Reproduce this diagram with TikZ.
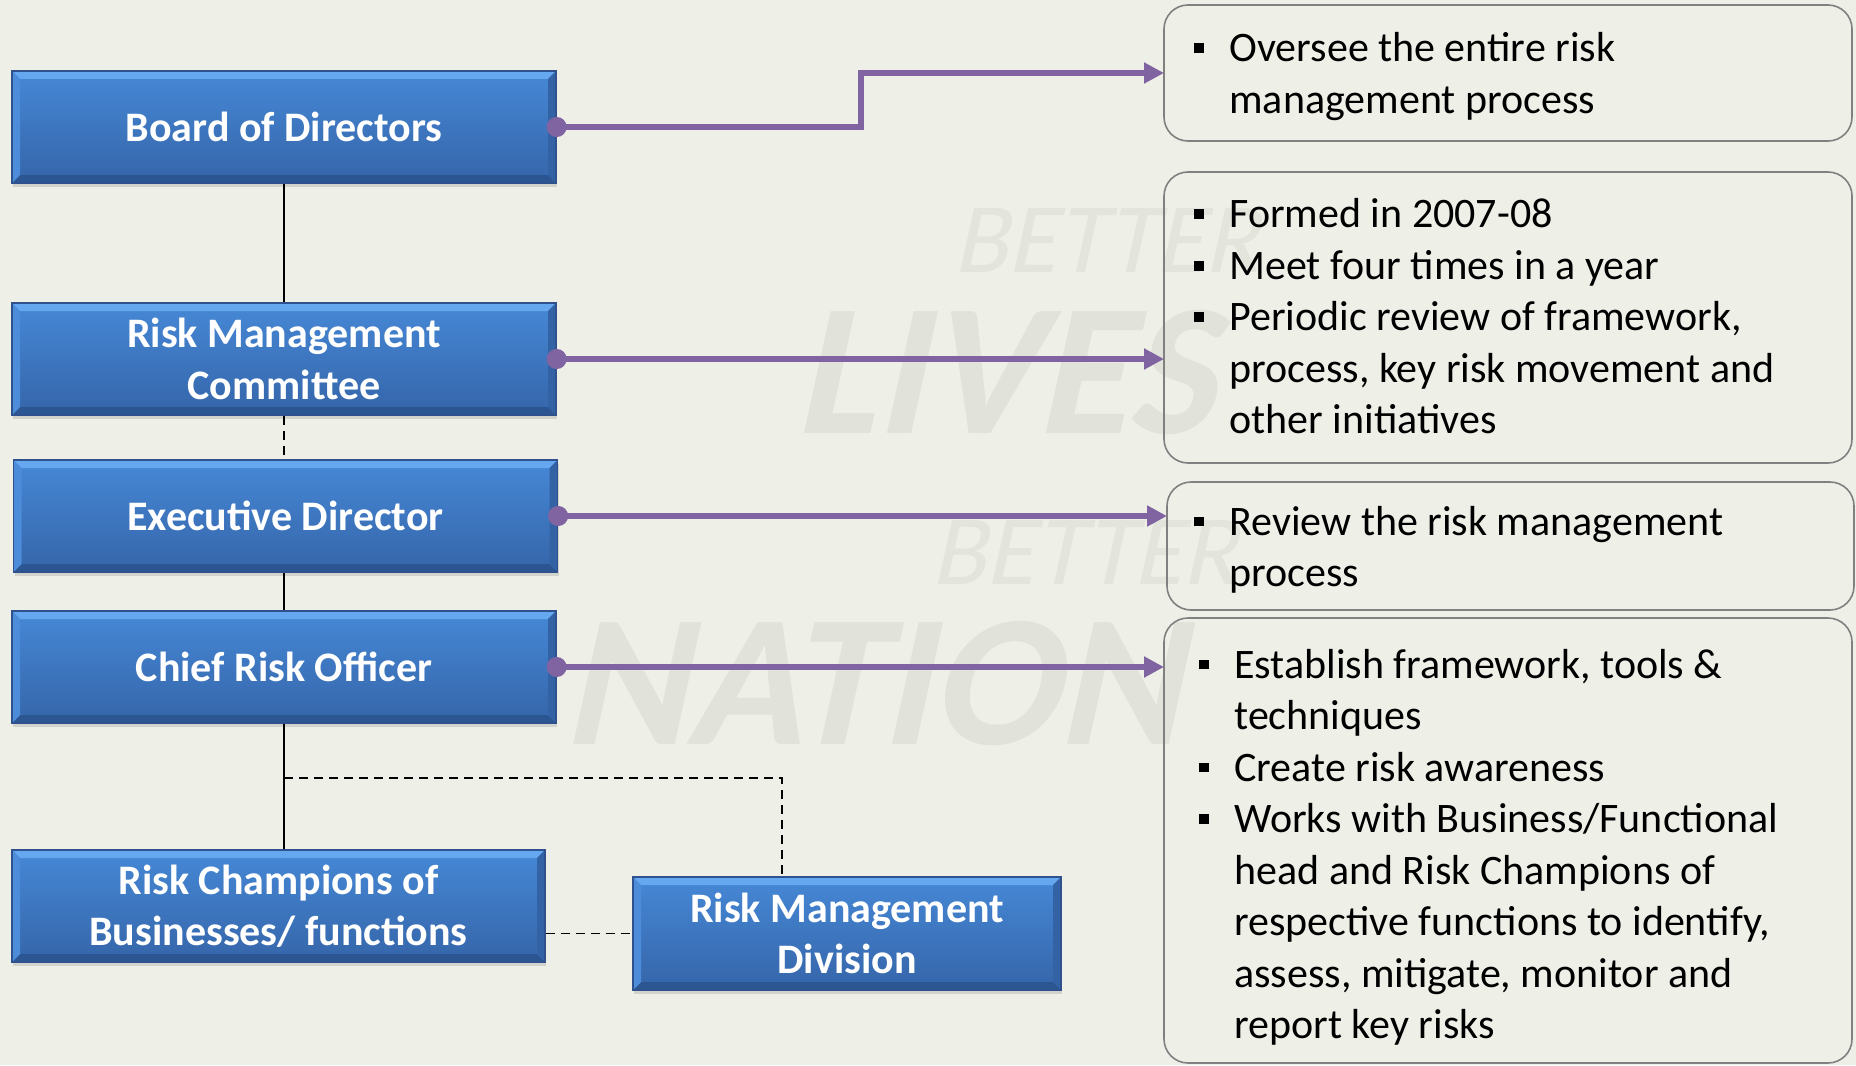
\documentclass[tikz,border=0pt]{standalone}
\usepackage{fontspec}
\setmainfont{Carlito}
\usetikzlibrary{arrows.meta,shadows,calc}
\definecolor{bg}{HTML}{EEF0E8}
\definecolor{bluetop}{HTML}{4688D6}
\definecolor{bluebot}{HTML}{3565A9}
\definecolor{bluehi}{HTML}{66A8F0}
\definecolor{bluelo}{HTML}{2C5692}
\definecolor{blueleft}{HTML}{4C8CD9}
\definecolor{blueright}{HTML}{3362A5}
\definecolor{boxedge}{HTML}{2F528F}
\definecolor{connc}{HTML}{8064A2}
\definecolor{wm}{HTML}{E1E3DB}
\definecolor{wmlight}{HTML}{E3E5DD}
\definecolor{descedge}{HTML}{808080}
\newcommand{\sqb}{\makebox[17.5pt][l]{\raisebox{4.4pt}{\rule{4.8pt}{4.8pt}}}}
\begin{document}
\begin{tikzpicture}[x=0.5pt,y=-0.5pt,
  bluebox/.style={draw=boxedge, line width=0.6pt, top color=bluetop, bottom color=bluebot,
    text=white, font=\bfseries\fontsize{21}{25.75}\selectfont, align=center,
    minimum width=272pt, minimum height=56pt, inner sep=0pt,
    drop shadow={opacity=0.25, shadow xshift=0.6pt, shadow yshift=-1.8pt},
    path picture={
      \coordinate (pnw) at (path picture bounding box.north west);
      \coordinate (pne) at (path picture bounding box.north east);
      \coordinate (psw) at (path picture bounding box.south west);
      \coordinate (pse) at (path picture bounding box.south east);
      \fill[bluehi] (pnw) -- (pne) -- ([xshift=-4pt,yshift=-4pt]pne) -- ([xshift=4pt,yshift=-4pt]pnw) -- cycle;
      \fill[bluelo] (psw) -- (pse) -- ([xshift=-4pt,yshift=4pt]pse) -- ([xshift=4pt,yshift=4pt]psw) -- cycle;
      \fill[blueleft] (pnw) -- ([xshift=4pt,yshift=-4pt]pnw) -- ([xshift=4pt,yshift=4pt]psw) -- (psw) -- cycle;
      \fill[blueright] (pne) -- ([xshift=-4pt,yshift=-4pt]pne) -- ([xshift=-4pt,yshift=4pt]pse) -- (pse) -- cycle;
    }},
  descbox/.style={draw=descedge, line width=0.8pt, rounded corners=12pt},
  desc/.style={anchor=west, inner sep=0pt, font=\fontsize{21}{25.75}\selectfont, align=left},
  conn/.style={draw=connc, line width=2.9pt, {Circle[length=10pt]}-{Triangle[length=10pt,width=10pt]}, shorten <=-5pt},
  vline/.style={draw=black, line width=0.9pt},
  dline/.style={vline, dash pattern=on 4.5pt off 3pt},
  wmtext/.style={text=wm, inner sep=0pt, transform shape}
]
\useasboundingbox (0,0) rectangle (1856,1065);
\clip (0,0) rectangle (1856,1065);
\fill[bg] (0,0) rectangle (1856,1065);

% watermark
\begin{scope}[shift={(1113,240)}, xslant=0.22]
  \node[wmtext, text=wmlight, font=\fontsize{50}{54}\selectfont] (wm1) at (0,0) {BETTER};
\end{scope}
\begin{scope}[shift={(1018,372)}, xslant=0.22]
  \node[wmtext, font=\bfseries\fontsize{94}{100}\selectfont] (wm2) at (0,0) {LIVES};
\end{scope}
\begin{scope}[shift={(1091,552)}, xslant=0.22]
  \node[wmtext, text=wmlight, font=\fontsize{50}{54}\selectfont] (wm3) at (0,0) {BETTER};
\end{scope}
\begin{scope}[shift={(885,683)}, xslant=0.22]
  \node[wmtext, font=\bfseries\fontsize{94}{100}\selectfont] (wm4) at (0,0) {NATION};
\end{scope}

% right description boxes
\draw[descbox] (1164,5) rectangle (1852,141);
\coordinate (oa) at (1164,73);
\draw[descbox] (1164,172) rectangle (1852,463);
\coordinate (ob) at (1164,317);
\draw[descbox] (1167,482) rectangle (1854,610);
\coordinate (oc) at (1167,546);
\draw[descbox] (1164,618) rectangle (1852,1063);
\coordinate (od) at (1164,843);

\node[desc] (ta) at (1194,77) {\begin{tabular}{@{}l@{}l@{}}\sqb & Oversee the entire risk\\ & management process\end{tabular}};
\node[desc] (tb) at (1194,320.5) {\begin{tabular}{@{}l@{}l@{}}\sqb & Formed in 2007-08\\ \sqb & Meet four times in a year\\ \sqb & Periodic review of framework,\\ & process, key risk movement and\\ & other initiatives\end{tabular}};
\node[desc] (tc) at (1194,550.5) {\begin{tabular}{@{}l@{}l@{}}\sqb & Review the risk management\\ & process\end{tabular}};
\node[desc] (td) at (1199,848) {\begin{tabular}{@{}l@{}l@{}}\sqb & Establish framework, tools \&\\ & techniques\\ \sqb & Create risk awareness\\ \sqb & Works with Business/Functional\\ & head and Risk Champions of\\ & respective functions to identify,\\ & assess, mitigate, monitor and\\ & report key risks\end{tabular}};

% blue boxes
\node[bluebox] (bod) at (284,127) {Board of Directors};
\node[bluebox] (rmc) at (284,359) {Risk Management\\Committee};
\node[bluebox] (ed) at (285.5,516) {Executive Director};
\node[bluebox] (cro) at (284,667) {Chief Risk Officer};
\node[bluebox, minimum width=266.5pt] (rc) at (278.5,906) {Risk Champions of\\Businesses/ functions};
\node[bluebox, minimum width=214pt, minimum height=56.5pt] (rmd) at (847,933.5) {Risk Management\\Division};

% black connectors
\draw[vline] (bod.south) -- (rmc.north);
\draw[dline] (rmc.south) -- (rmc.south |- ed.north);
\draw[vline] (cro.north |- ed.south) -- (cro.north);
\draw[vline] (cro.south) -- (cro.south |- rc.north);
\coordinate (jl) at (284,778);
\coordinate (jr) at (782,778);
\draw[dline] (jl) -- (jr) -- (jr |- rmd.north);
\draw[dline] (rmd.west -| rc.east) -- (rmd.west);

% purple connectors
\draw[conn] (bod.east) -- ++(304,0) |- (oa);
\draw[conn] (rmc.east) -- (rmc.east -| ob);
\draw[conn] (ed.east) -- (ed.east -| oc);
\draw[conn] (cro.east) -- (cro.east -| od);
\end{tikzpicture}
\end{document}
